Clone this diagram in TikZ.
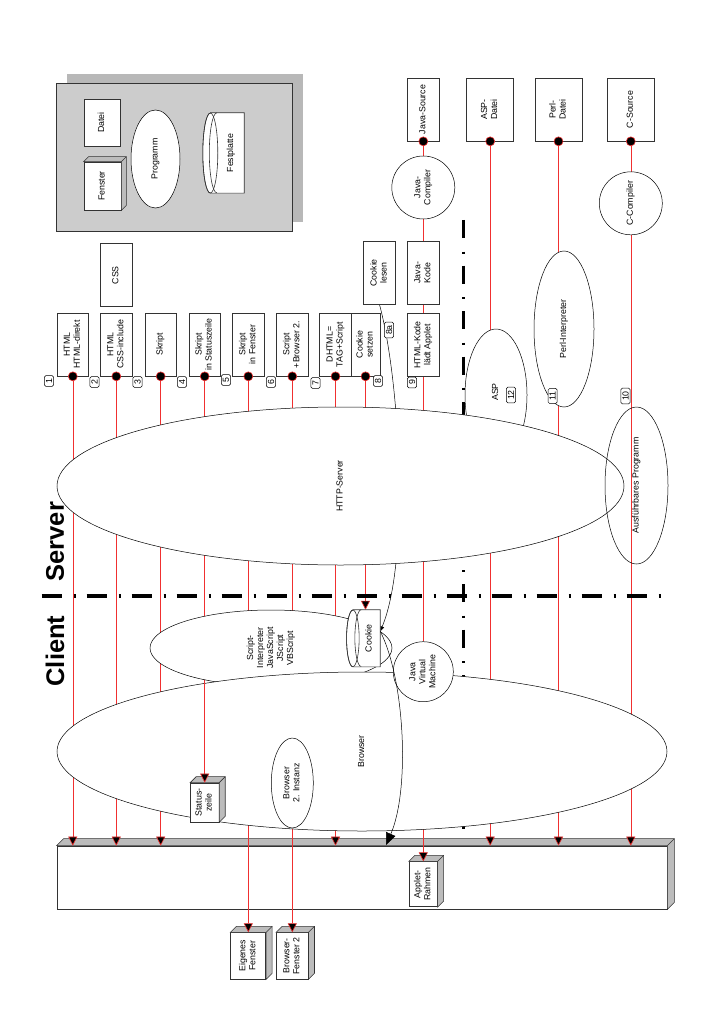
\documentclass[tikz,border=0pt]{standalone}
\usepackage{fontspec}
\setmainfont{Liberation Sans}
\usetikzlibrary{shapes.geometric, arrows.meta, positioning}
\definecolor{linrot}{RGB}{240,48,48}
\definecolor{kasten}{RGB}{204,204,204}
\definecolor{schatten}{RGB}{184,184,184}
\definecolor{seite}{RGB}{188,188,188}
\pgfdeclarelayer{hinten}
\pgfdeclarelayer{linien}
\pgfsetlayers{hinten,linien,main}

% rotated text, one or more lines
\newcommand{\dreh}[1]{\rotatebox{90}{\begin{tabular}{@{}c@{}}#1\end{tabular}}}
% 3D faces (top and right side) of a box node
\newcommand{\quader}[2]{%
  \filldraw[face] (#1.north west) -- ([shift={(#2,-#2)}]#1.north west) -- ([shift={(#2,-#2)}]#1.north east)
    -- ([shift={(#2,-#2)}]#1.south east) -- (#1.south east) -- (#1.north east) -- cycle;
  \draw[black!80, line width=0.6pt] (#1.north east) -- ([shift={(#2,-#2)}]#1.north east);}

\begin{document}
\begin{tikzpicture}[x=1pt, y=-1pt,
  every node/.style={font=\fontsize{8.8}{10}\selectfont},
  box/.style={rectangle, draw=black!80, line width=0.7pt, fill=white, inner sep=0pt, minimum width=31.5pt, minimum height=63pt},
  oval/.style={ellipse, draw, line width=0.5pt, fill=white, inner sep=0pt},
  rund/.style={circle, draw, line width=0.5pt, fill=white, inner sep=0pt, minimum size=63pt},
  punkt/.style={circle, fill=black, draw=linrot, line width=0.6pt, minimum size=9pt, inner sep=0pt},
  nr/.style={rectangle, draw, line width=0.5pt, rounded corners=1.5pt, fill=white, inner xsep=1.5pt, inner ysep=3pt},
  rot/.style={draw=linrot, line width=0.6pt},
  pfeil/.style={rot, -{Triangle[width=9pt, length=9pt, fill=black]}},
  face/.style={fill=seite, draw=black!80, line width=0.6pt},
  gross/.style={font=\fontsize{25.5}{26}\selectfont\bfseries}
]
\useasboundingbox (0,0) rectangle (718,1016);

% Legend panel
\fill[schatten] (67,74) rectangle (303,222);
\node[draw=black!80, line width=0.7pt, fill=kasten, minimum width=236pt, minimum height=148pt] (tafel) at (174,157) {};
\node[box, minimum width=36pt, minimum height=47pt] (datei) at (102,122.5) {\dreh{Datei}};
\node[box, minimum width=37pt, minimum height=48pt] (fenster) at (102.5,186) {\dreh{Fenster}};
\quader{fenster}{5}
\node[oval, minimum width=49pt, minimum height=98pt] (programm) at (155.5,159) {\dreh{Programm}};
\node[inner sep=0pt, minimum width=26pt, minimum height=80pt] (platte) at (231,153) {};
\filldraw[fill=white, draw=black!80, line width=0.6pt] ([xshift=-7.5pt]platte.north west) -- (platte.north east) -- (platte.south east)
  -- ([xshift=-7.5pt]platte.south west) arc[start angle=270, end angle=90, x radius=7.5pt, y radius=40pt] -- cycle;
\draw[black!80, line width=0.6pt] ([xshift=-7.5pt]platte.west) ellipse [x radius=7.5pt, y radius=40pt];
\draw[black!80, line width=0.6pt] ([xshift=-1pt]platte.north west) arc[start angle=90, end angle=270, x radius=7.5pt, y radius=40pt];
\node at (platte) {\dreh{Festplatte}};

% Server side sources
\foreach \n/\x/\w/\txt in {jsrc/423.3/31.3/{Java-Source}, aspd/490.2/47/{ASP-\\Datei},
    perld/558.5/47/{Perl-\\Datei}, csrc/630.8/47/{C-Source}} {
  \node[box, minimum width=\w pt] (\n) at (\x,109.5) {\dreh{\txt}};
  \node[punkt] (p\n) at (\n.south) {};
}
\node[rund] (jc) at (423.3,187.5) {\dreh{Java-\\Compiler}};
\node[rund] (cc) at (630.8,203.3) {\dreh{C-Compiler}};

% Documents
\foreach \i/\x/\txt in {1/72.8/{HTML\\HTML-direkt}, 2/116.3/{HTML\\CSS-include}, 3/160.7/{Skript},
    4/204.7/{Skript\\in Statuszeile}, 5/248.3/{Skript\\in Fenster}, 6/292.3/{Script\\+Browser 2.},
    7/335.5/{DHTML=\\TAG+Script}} {
  \node[box] (b\i) at (\x,344.5) {\dreh{\txt}};
  \node[punkt] (d\i) at (b\i.south) {};
}
\node[box, minimum width=29pt] (b8) at (365.5,344.5) {\dreh{Cookie\\setzen}};
\node[punkt] (d8) at (b8.south) {};
\node[box] (css) at (116.3,275.3) {\dreh{CSS}};
\node[box] (lesen) at (379.5,272.8) {\dreh{Cookie\\lesen}};
\node[box] (jkode) at (423.3,272.8) {\dreh{Java-\\Kode}};
\node[box] (hkode) at (423.3,345) {\dreh{HTML-Kode\\lädt Applet}};

% Numbers
\foreach \n/\x/\y in {1/49/381, 2/94.5/382, 3/137.5/382, 4/182/382, 5/226/380, 6/271/382,
    7/315.5/383, 8/378/381, 9/412/382.5, 8a/389/330}
  \node[nr] (n\n) at (\x,\y) {\rotatebox{90}{\n}};

% Server programs
\node[oval, minimum width=60pt, minimum height=156pt] (perl) at (564,329) {\dreh{Perl-Interpreter}};
\node[oval, minimum width=62pt, minimum height=132pt] (asp) at (496,395) {};
\node[oval, minimum width=567pt, minimum height=158pt] (http) at (340.5,486) {\dreh{HTTP-Server}};
\node at (496,392) {\dreh{ASP}};
\node[nr] (n12) at (511,395) {\rotatebox{90}{12}};
\node[nr] (n11) at (552.7,396) {\rotatebox{90}{11}};
\node[nr] (n10) at (625.5,396) {\rotatebox{90}{10}};
\node[ellipse, draw, line width=0.5pt, inner sep=0pt, minimum width=63pt, minimum height=157pt] (prog) at (636.5,485.5) {\dreh{Ausführbares Programm}};

% Client side
\node[oval, minimum width=242pt, minimum height=76pt] (script) at (271,648) {\dreh{Script-\\Interpreter\\JavaScript\\JScript\\VBScript}};
\node[inner sep=0pt, minimum width=20.7pt, minimum height=56.7pt] (keks) at (369.7,638.3) {};
\filldraw[fill=white, draw=black!80, line width=0.6pt] ([xshift=-6.3pt]keks.north west) -- (keks.north east) -- (keks.south east)
  -- ([xshift=-6.3pt]keks.south west) arc[start angle=270, end angle=90, x radius=6.3pt, y radius=28.35pt] -- cycle;
\draw[black!80, line width=0.6pt] ([xshift=-6.3pt]keks.west) ellipse [x radius=6.3pt, y radius=28.35pt];
\draw[black!80, line width=0.6pt] ([xshift=2pt]keks.north west) arc[start angle=90, end angle=270, x radius=6.3pt, y radius=28.35pt];
\node at (keks) {\dreh{Cookie}};
\node[oval, minimum width=610pt, minimum height=159pt] (browser) at (362,751.5) {\dreh{Browser}};
\node[oval, minimum width=42pt, minimum height=90pt] (browser2) at (292.3,783) {\dreh{Browser\\2. Instanz}};
\node[rund, minimum size=60pt] (jvm) at (423.3,671.7) {\dreh{Java\\Virtual\\Machine}};
\node[box, minimum width=28.3pt, minimum height=39pt] (stat) at (204.7,802.5) {\dreh{Status-\\zeile}};
\quader{stat}{6}
\coordinate (s4) at (204.7,683);
\draw[pfeil] (s4) -- (s4 |- stat.north);

\node[gross] (server) at (55,541.7) {\rotatebox{90}{Server}};
\node[gross] (client) at (55,651) {\rotatebox{90}{Client}};

% Screen
\begin{pgfonlayer}{hinten}
  \node[box, minimum width=610pt, minimum height=63pt] (leiste) at (362,877.5) {};
  \quader{leiste}{7}
  \node[box, minimum width=28pt, minimum height=45pt] (applet) at (423.3,884.2) {\dreh{Applet-\\Rahmen}};
  \quader{applet}{6}
  \node[box, minimum width=35pt, minimum height=46.3pt] (eigen) at (248.3,955.8) {\dreh{Eigenes\\Fenster}};
  \quader{eigen}{6}
  \node[box, minimum width=31.6pt, minimum height=46.3pt] (bfenst) at (292.3,955.8) {\dreh{Browser-\\Fenster 2}};
  \quader{bfenst}{6}
\end{pgfonlayer}

% Connections
\begin{pgfonlayer}{linien}
  \foreach \i in {1,2,3,7}
    \draw[pfeil] (d\i) -- (d\i |- leiste.north);
  \draw[rot] (d4) -- (s4);
  \draw[pfeil] (d5) -- (d5 |- eigen.north);
  \draw[pfeil] (d6) -- (d6 |- bfenst.north);
  \draw[pfeil] (d8) -- (d8 |- keks.north);
  \draw[rot] (pjsrc) -- (jc) -- (jkode) -- (hkode) -- (jvm);
  \draw[pfeil] (jvm) -- (applet);
  \draw[pfeil] (paspd) -- (paspd |- leiste.north);
  \draw[pfeil] (pperld) -- (pperld |- leiste.north);
  \draw[rot] (pcsrc) -- (cc);
  \draw[pfeil] (cc) -- (cc |- leiste.north);
  \draw[line width=0.5pt, -{Triangle[width=4pt, length=5pt]}] (lesen.south) .. controls (400,380) and (410,560) .. ([yshift=7pt]keks.east);
  % Client / Server borders
  \draw[line width=3.5pt, dash pattern=on 20pt off 12pt on 2pt off 11pt] (41.7,596) -- (668,596);
  \draw[line width=3pt, dash pattern=on 18pt off 13.5pt on 2pt off 12pt] (463.3,220) -- (463.3,829);
\end{pgfonlayer}

\coordinate (keksziel) at (386,845);
\draw[line width=0.5pt, -{Triangle[width=10pt, length=12pt]}] ([yshift=7pt]keks.east) .. controls (405,680) and (410,790) .. (keksziel);

\end{tikzpicture}
\end{document}
